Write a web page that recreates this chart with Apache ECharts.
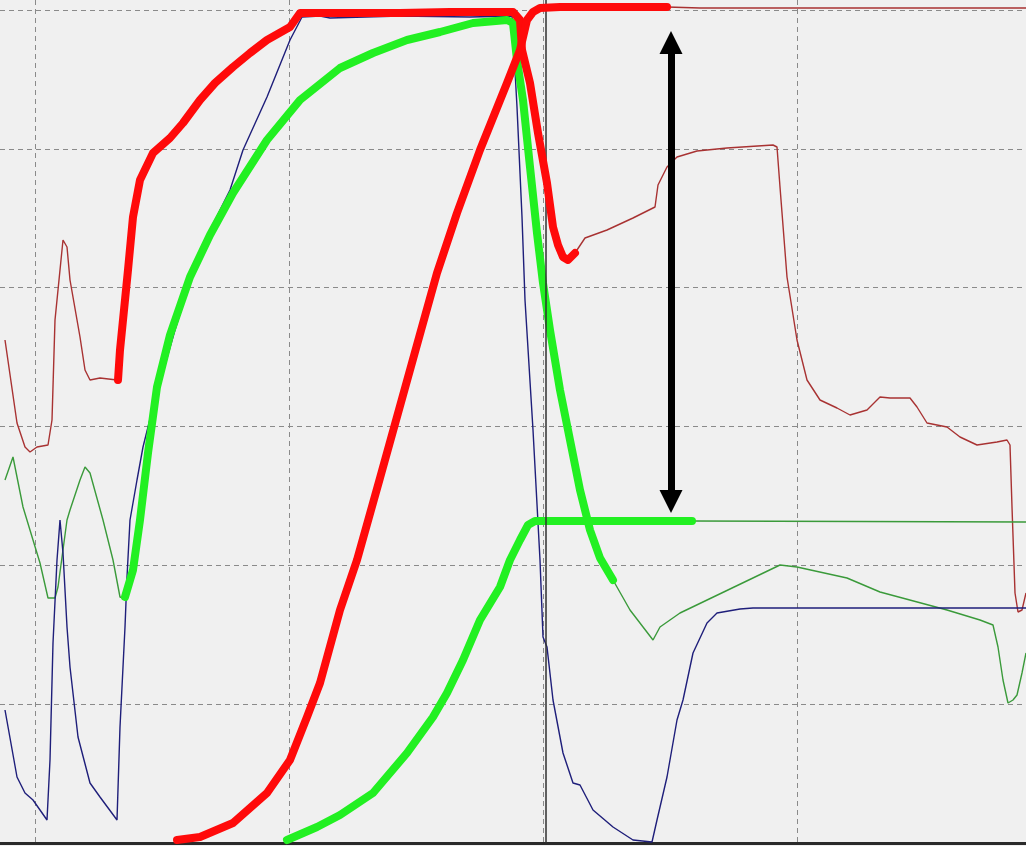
<!DOCTYPE html>
<html>
<head>
<meta charset="utf-8">
<script src="https://cdn.jsdelivr.net/npm/echarts@6/dist/echarts.min.js"></script>
<style>
html,body{margin:0;padding:0;background:#f0f0f0;}
#chart{width:1026px;height:846px;}
</style>
</head>
<body>
<div id="chart"></div>
<script>
// x = sample index, y = ADC counts (0 .. 833)
const redTrace1Left = [[5,503],[17,420],[25,396],[30,391],[37,396],[48,398],[52,423],[55,523],[60,573],[63,603],[67,596],[70,563],[80,506],[85,473],[90,463],[100,465],[117,463]];
const redTrace1Bold = [[118,463],[120,493],[125,543],[128,573],[133,626],[140,663],[153,690],[170,705],[183,720],[200,743],[215,760],[233,776],[250,790],[267,803],[290,816],[300,830],[340,830],[400,830],[450,831],[513,831],[520,823],[522,793],[530,760],[538,710],[547,660],[553,616],[558,598],[563,586],[568,583],[575,590]];
const redTrace1Right = [[585,605],[607,613],[633,625],[655,636],[658,658],[667,676],[677,686],[697,692],[727,695],[773,698],[777,696],[780,656],[787,566],[797,503],[807,463],[820,443],[837,435],[850,428],[867,433],[880,446],[890,445],[910,445],[917,436],[927,420],[947,416],[960,406],[977,398],[997,401],[1007,403],[1010,398],[1012,336],[1015,250],[1018,231],[1022,233],[1026,250]];

const redTrace2Bold = [[177,3],[200,6],[233,20],[267,50],[290,83],[307,126],[320,160],[340,233],[357,283],[380,365],[400,437],[420,509],[437,570],[457,630],[480,693],[507,760],[520,793],[527,823],[533,831],[540,835],[560,836],[600,836],[667,836]];
const redTrace2Right = [[667,836],[700,835],[1026,835]];

const greenTrace1Left = [[5,363],[13,386],[23,336],[33,303],[40,280],[48,245],[55,245],[58,256],[67,323],[70,333],[80,363],[85,376],[90,370],[103,323],[113,283],[120,246],[123,245]];
const greenTrace1Bold = [[125,246],[133,273],[140,323],[148,390],[157,456],[170,508],[190,566],[210,608],[233,650],[267,703],[300,743],[340,775],[373,790],[407,803],[440,811],[473,820],[507,823],[513,820],[517,783],[523,743],[530,676],[537,610],[543,560],[550,513],[560,453],[570,403],[580,353],[590,313],[600,285],[613,263]];
const greenTrace1Right = [[630,233],[653,203],[660,216],[680,230],[780,278],[797,276],[847,265],[880,251],[947,233],[980,223],[993,218],[998,196],[1003,163],[1008,140],[1013,143],[1017,148],[1022,170],[1026,190]];

const greenTrace2Bold = [[287,3],[317,16],[340,28],[373,50],[407,90],[433,126],[447,150],[463,183],[480,223],[500,256],[510,283],[520,303],[528,318],[535,322],[600,322],[692,322]];
const greenTrace2Right = [[692,322],[1026,321]];

const blueTrace = [[5,133],[17,66],[25,50],[33,43],[47,23],[50,83],[53,200],[57,283],[60,323],[63,290],[67,216],[70,176],[78,106],[90,60],[100,46],[117,23],[120,116],[125,216],[127,266],[130,323],[137,363],[143,396],[153,436],[175,513],[200,593],[230,653],[243,693],[267,746],[290,803],[302,826],[320,827],[330,825],[400,827],[470,826],[512,827],[517,736],[522,626],[525,543],[533,413],[540,283],[543,206],[547,196],[553,143],[563,90],[573,60],[580,58],[593,33],[613,16],[633,3],[652,1],[657,23],[667,66],[677,123],[683,143],[693,190],[707,220],[717,230],[740,234],[753,235],[1026,235]];

const cursorSample = 546;
const arrowSample = 671;
const arrowLevels = [800.5, 341.5];

const xRange = [0, 1026];
const yRange = [0, 833];
const yDivisions = 6;
const divisionSamples = 254;
const gridSamples = [35, 797];

const thinRed = '#a83232', boldRed = '#ff0a0a';
const thinGreen = '#3a9a3a', boldGreen = '#22f022';
const blue = '#1e1e7a';

function thin(name, data, color, extra) {
  return Object.assign({
    name, type: 'line', data, showSymbol: false, symbol: 'none', clip: false,
    lineStyle: { color, width: 1.4 }, z: 2, silent: true
  }, extra || {});
}
function bold(name, data, color, z) {
  return {
    name, type: 'line', data, showSymbol: false, symbol: 'none', clip: false,
    lineStyle: { color, width: 8, cap: 'round', join: 'round' }, z, silent: true
  };
}

const chart = echarts.init(document.getElementById('chart'), null, { renderer: 'canvas' });
chart.setOption({
  animation: false,
  backgroundColor: '#f0f0f0',
  grid: [
    { left: 0, right: 0, top: 10, bottom: 3 },
    { left: gridSamples[0], width: gridSamples[1] - gridSamples[0], top: 0, bottom: 3 }
  ],
  xAxis: [
    { type: 'value', gridIndex: 0, min: xRange[0], max: xRange[1],
      axisLine: { show: true, onZero: false, lineStyle: { color: '#2a2a2a', width: 3 } },
      axisTick: { show: false }, axisLabel: { show: false }, splitLine: { show: false } },
    { type: 'value', gridIndex: 1, min: 0, max: gridSamples[1] - gridSamples[0], interval: divisionSamples,
      axisLine: { show: false }, axisTick: { show: false }, axisLabel: { show: false },
      splitLine: { show: true, showMinLine: true, showMaxLine: true, lineStyle: { color: '#8a8a8a', type: [5, 4], width: 1 } } }
  ],
  yAxis: [
    { type: 'value', gridIndex: 0, min: yRange[0], max: yRange[1], interval: (yRange[1] - yRange[0]) / yDivisions,
      axisLine: { show: false }, axisTick: { show: false }, axisLabel: { show: false },
      splitLine: { show: true, lineStyle: { color: '#8a8a8a', type: [5, 4], width: 1 } } },
    { type: 'value', gridIndex: 1, min: 0, max: 1, show: false, splitLine: { show: false } }
  ],
  series: [
    thin('cursor', [], '#303030', {
      xAxisIndex: 1, yAxisIndex: 1,
      markLine: { silent: true, symbol: ['none', 'none'], label: { show: false },
        lineStyle: { color: '#303030', width: 1.5, type: 'solid' },
        data: [{ xAxis: cursorSample - gridSamples[0] }] } }),
    thin('red1', redTrace1Left.concat(redTrace1Bold, redTrace1Right), thinRed),
    thin('red2', redTrace2Bold.concat(redTrace2Right), thinRed),
    thin('green1', greenTrace1Left.concat(greenTrace1Bold, greenTrace1Right), thinGreen),
    thin('green2', greenTrace2Bold.concat(greenTrace2Right), thinGreen),
    thin('blue', blueTrace, blue, { z: 3 }),
    bold('green1Bold', greenTrace1Bold, boldGreen, 4),
    bold('green2Bold', greenTrace2Bold, boldGreen, 4),
    bold('red1Bold', redTrace1Bold, boldRed, 5),
    bold('red2Bold', redTrace2Bold, boldRed, 5),
    {
      name: 'span', type: 'line', data: [], z: 10, silent: true,
      markLine: {
        silent: true, symbol: ['triangle', 'triangle'], symbolSize: [23, 23],
        label: { show: false },
        lineStyle: { color: '#000000', width: 7, type: 'solid' },
        itemStyle: { color: '#000000' },
        data: [[{ coord: [arrowSample, arrowLevels[0]] }, { coord: [arrowSample, arrowLevels[1]] }]]
      }
    }
  ]
});
</script>
</body>
</html>
